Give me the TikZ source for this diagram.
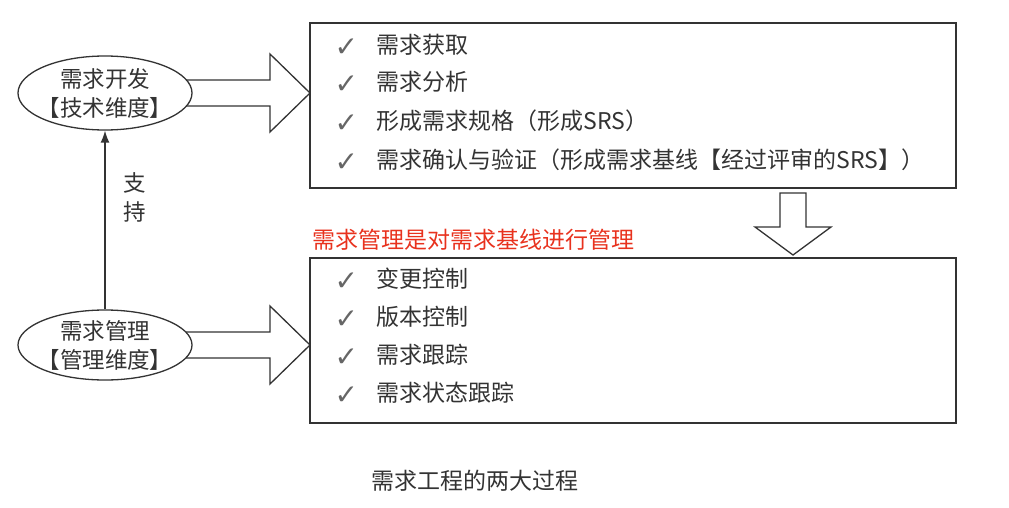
\documentclass[tikz,border=0pt]{standalone}
\usepackage{fontspec}
\setmainfont{Noto Sans CJK SC}
\newfontfamily\symfont{DejaVu Sans}
\usetikzlibrary{shapes.geometric,arrows.meta,calc,backgrounds}
\definecolor{ink}{HTML}{333333}
\definecolor{redtxt}{HTML}{E8321E}
\begin{document}
\begin{tikzpicture}[x=1pt,y=-1pt,color=ink,line width=1.3pt,
  ell/.style={ellipse,draw=ink,line width=1.3pt,fill=white,minimum width=174pt,minimum height=74pt,inner xsep=-20pt,inner ysep=-8pt,align=center,font=\fontsize{22.5}{29}\selectfont},
  listbox/.style={draw=ink,line width=1.3pt,rectangle,minimum width=646pt,inner sep=0pt,outer sep=0pt,anchor=north west},
  item/.style={anchor=west,inner sep=0pt,font=\fontsize{23}{25}\selectfont},
  chk/.style={anchor=west,inner sep=0pt,text=ink!75,font=\symfont\fontsize{28}{28}\selectfont},
  blockarrow/.style={draw=ink,line width=1.3pt,fill=white,line join=miter}]
\useasboundingbox (0,0) rectangle (1009,508);
% ellipses
\node[ell] (dev) at (105,93) {需求开发\\【技术维度】};
\node[ell,minimum height=70pt] (mgmt) at (105,345) {需求管理\\【管理维度】};
% boxes
\node[listbox,minimum height=165pt] (topbox) at (310,23) {};
\node[listbox,minimum height=165pt] (botbox) at (310,258) {};
% items top
\foreach \y/\t in {45/需求获取,82/需求分析,121/形成需求规格（形成SRS）,160/需求确认与验证（形成需求基线【经过评审的SRS】）}{
  \node[chk] at (334,\y+3) {✓};
  \node[item] at (376,\y) {\t};
}
\foreach \y/\t in {279/变更控制,317/版本控制,355/需求跟踪,393/需求状态跟踪}{
  \node[chk] at (334,\y+3) {✓};
  \node[item] at (376,\y) {\t};
}
% red label
\node[item,text=redtxt] (redlbl) at (312,240) {需求管理是对需求基线进行管理};
% caption
\node[inner sep=0pt,font=\fontsize{23}{25}\selectfont] (caption) at (475,481) {需求工程的两大过程};
% support arrow
\draw[-{Latex[length=12pt,width=9pt]}] (mgmt.north) -- (dev.south);
\node[inner sep=0pt,align=center,font=\fontsize{22.5}{29}\selectfont] (support) at (135,197) {支\\持};
% block arrows
\coordinate (a1s) at ($(dev.east)+(-12,0)$);
\coordinate (a1e) at (topbox.west |- dev.east);
\coordinate (a2s) at ($(mgmt.east)+(-12,0)$);
\coordinate (a2e) at (botbox.west |- mgmt.east);
\coordinate (a3s) at ($(topbox.south west)+(483,5)$);
\coordinate (a3e) at ($(botbox.north west)+(483,-3)$);
\begin{scope}[on background layer]
\draw[blockarrow] ($(a1s)+(0,-13)$) -- ($(a1e)+(-40,-13)$) -- ($(a1e)+(-40,-39)$) -- (a1e)
  -- ($(a1e)+(-40,39)$) -- ($(a1e)+(-40,13)$) -- ($(a1s)+(0,13)$) -- cycle;
\draw[blockarrow] ($(a2s)+(0,-13)$) -- ($(a2e)+(-40,-13)$) -- ($(a2e)+(-40,-39)$) -- (a2e)
  -- ($(a2e)+(-40,39)$) -- ($(a2e)+(-40,13)$) -- ($(a2s)+(0,13)$) -- cycle;
\end{scope}
\draw[blockarrow] ($(a3s)+(-13,0)$) -- ($(a3e)+(-13,-28)$) -- ($(a3e)+(-38,-28)$) -- (a3e)
  -- ($(a3e)+(38,-28)$) -- ($(a3e)+(13,-28)$) -- ($(a3s)+(13,0)$) -- cycle;
\end{tikzpicture}
\end{document}
